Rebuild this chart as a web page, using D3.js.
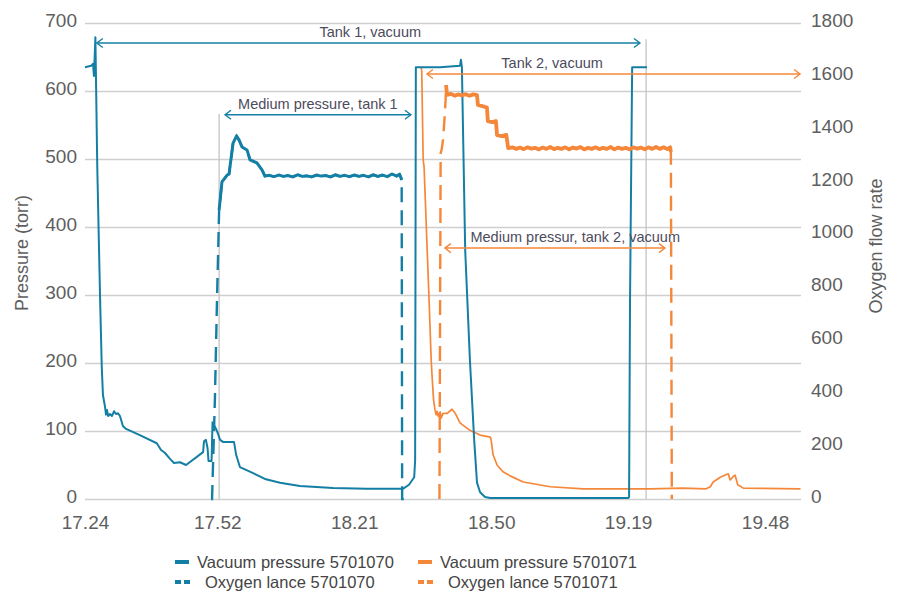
<!DOCTYPE html>
<html>
<head>
<meta charset="utf-8">
<script src="https://cdn.jsdelivr.net/npm/d3@7"></script>
<style>
  body { margin: 0; background: #fff; }
  svg { font-family: "Liberation Sans", Arial, sans-serif; }
</style>
</head>
<body>
<svg id="chart" width="899" height="601"></svg>
<script>
// time is minutes after 17.24
const timeTicks = [0, 28, 57, 86, 115, 144];
const timeLabels = ["17.24", "17.52", "18.21", "18.50", "19.19", "19.48"];
const pressureTicks = [0, 100, 200, 300, 400, 500, 600, 700];
const flowTicks = [0, 200, 400, 600, 800, 1000, 1200, 1400, 1600, 1800];

// [minute, torr]
const vacuum5701070 = [
  [0, 635], [1.3, 637], [1.7, 640], [1.9, 622], [2.2, 679], [2.6, 488], [3.2, 293], [3.55, 194],
  [3.8, 153], [4.25, 135], [4.45, 124], [4.65, 131], [4.9, 122], [5.3, 125], [5.7, 122], [6.15, 129],
  [6.55, 125], [7.0, 126], [7.4, 122], [8.05, 107], [8.7, 103], [11.6, 94], [15.2, 82], [16.1, 72],
  [16.9, 68], [18.0, 59], [18.85, 53], [20.1, 54], [21.4, 50], [25.0, 69], [25.2, 85], [25.6, 87],
  [25.95, 75], [26.15, 56], [26.8, 56], [27.0, 113], [27.3, 109], [27.75, 103], [28.15, 96], [28.6, 87],
  [29.2, 84], [31.55, 84], [32.0, 65], [32.8, 47], [35.6, 38], [38.3, 29], [41.3, 24], [45.5, 19],
  [52.5, 16], [59.7, 15], [66.7, 15], [67.3, 15], [68.6, 21], [69.7, 32], [69.9, 57], [70.05, 635],
  [75.2, 635], [79.4, 637], [79.6, 646], [79.8, 635], [80.5, 366], [81.5, 204], [82.4, 87], [83.0, 24],
  [83.65, 10], [84.7, 3], [85.8, 1.5], [115.0, 1.5], [115.2, 3], [115.4, 293], [115.85, 635], [119.0, 635]
];

const vacuum5701071 = [
  [71.2, 635], [71.3, 628], [71.6, 499], [71.8, 488], [72.45, 366], [72.85, 293], [73.3, 204], [73.5, 179],
  [73.8, 146], [74.1, 131], [74.35, 124], [74.55, 129], [74.75, 122], [75.2, 128], [75.4, 119], [75.8, 126],
  [76.7, 126], [77.7, 132], [78.4, 126], [79.4, 112], [81.5, 101], [83.65, 94], [85.8, 91], [86.0, 87],
  [86.4, 65], [87.25, 50], [88.5, 40], [90.0, 34], [92.8, 25], [98.5, 18], [105.5, 15], [112.7, 15],
  [119.6, 15], [126.6, 16], [131.5, 15], [132.4, 18], [133.0, 25], [134.5, 32], [136.2, 37], [136.6, 28],
  [137.4, 34], [137.65, 35], [138.2, 21], [139.4, 16], [151.5, 15]
];

// [minute, flow]
const lance5701070 = [
  [26.7, 0], [26.9, 0], [27.5, 374], [27.95, 753], [28.4, 1093], [29.0, 1199], [30.1, 1225], [30.5, 1229],
  [31.35, 1346], [32.1, 1373], [32.6, 1358], [33.25, 1331], [34.3, 1320], [34.95, 1282], [36.4, 1271],
  [37.5, 1244], [38.1, 1221], [39, 1224], [40, 1219], [41, 1225], [42, 1220], [43, 1223], [44, 1218],
  [45, 1226], [46, 1220], [47, 1222], [48, 1218], [49, 1225], [50, 1221], [51, 1223], [52, 1218],
  [53, 1226], [54, 1220], [55, 1224], [56, 1219], [57, 1225], [58, 1220], [59, 1224], [60, 1218],
  [61, 1226], [62, 1220], [63, 1225], [64, 1219], [65, 1229], [66, 1221], [66.6, 1228], [66.9, 1215],
  [67.05, 1206], [67.15, 0], [67.5, 0]
];

const lance5701071 = [
  [75.05, 0], [75.3, 1308], [75.5, 1320], [75.8, 1358], [76.1, 1433], [76.35, 1509], [76.45, 1565],
  [76.65, 1528], [77.5, 1532], [78.3, 1525], [79.0, 1530], [79.8, 1526], [80.6, 1531], [81.4, 1525],
  [82.2, 1530], [83.0, 1527], [83.2, 1490], [84.1, 1486], [85.1, 1480], [85.3, 1429], [86.2, 1425],
  [87.0, 1429], [87.25, 1376], [88.2, 1372], [89.2, 1377], [89.6, 1327], [90.5, 1330], [91.3, 1324],
  [92.1, 1329], [92.9, 1323], [93.7, 1330], [94.5, 1325], [95.3, 1328], [96.1, 1322], [96.9, 1329],
  [97.7, 1324], [98.5, 1331], [99.3, 1323], [100.1, 1328], [100.9, 1324], [101.7, 1330], [102.5, 1322],
  [103.3, 1329], [104.1, 1325], [104.9, 1331], [105.7, 1322], [106.5, 1328], [107.3, 1324], [108.1, 1330],
  [108.9, 1323], [109.7, 1328], [110.5, 1324], [111.3, 1331], [112.1, 1322], [112.9, 1329], [113.7, 1324],
  [114.5, 1328], [115.3, 1322], [116.1, 1330], [116.9, 1325], [117.7, 1329], [118.5, 1322], [119.3, 1330],
  [120.1, 1324], [120.9, 1331], [121.7, 1324], [122.5, 1330], [123.3, 1323], [123.9, 1330], [124.05, 1312],
  [124.25, 0]
];

// steady lance flow (minutes), drawn solid
const steady5701070 = [28.4, 67.05];
const steady5701071 = [76.45, 124.05];

// phase markers: minute and top (torr)
const markerTimes = [28.4, 118.8];
const markerTops = [566, 676];

const annotLabels = ["Tank 1, vacuum", "Medium pressure, tank 1", "Tank 2, vacuum", "Medium pressur, tank 2, vacuum"];
const annotFrom = [2.5, 29.65, 72.4, 76.2];
const annotTo = [117.5, 69.0, 151.4, 122.8];
const annotLevel = [670.5, 565, 625, 369];
const annotTextAt = [60.4, 49.3, 98.9, 103.8];
const annotTank = [0, 0, 1, 1];

const legendLabels = ["Vacuum pressure 5701070", "Oxygen lance 5701070", "Vacuum pressure 5701071", "Oxygen lance 5701071"];

const colors = ["#147fa5", "#f5873a"];

const margin = {top: 23, right: 98, bottom: 102, left: 85};
const width = 899 - margin.left - margin.right;
const height = 601 - margin.top - margin.bottom;

const svg = d3.select("#chart");
const g = svg.append("g").attr("transform", `translate(${margin.left},${margin.top})`);

const x = d3.scaleLinear().domain([0, 151.6]).range([0, width]);
const yLeft = d3.scaleLinear().domain([0, 700]).range([height, 0]);
const yRight = d3.scaleLinear().domain([0, 1800]).range([height, 0]);

// arrow markers
const defs = svg.append("defs");
colors.forEach((c, i) => {
  defs.append("marker")
    .attr("id", "arrow" + i)
    .attr("viewBox", "-8 -6 10 12")
    .attr("refX", 0).attr("refY", 0)
    .attr("markerWidth", 10).attr("markerHeight", 12)
    .attr("markerUnits", "userSpaceOnUse")
    .attr("orient", "auto-start-reverse")
    .append("path")
    .attr("d", "M-6,-4.5L0,0L-6,4.5")
    .attr("fill", "none")
    .attr("stroke", c)
    .attr("stroke-width", 1.4);
});

// grid + left axis
const gridAxis = g.append("g")
  .call(d3.axisLeft(yLeft).tickValues(pressureTicks).tickSize(-width).tickPadding(8));
gridAxis.select(".domain").remove();
gridAxis.selectAll(".tick line").attr("stroke", "#cfcfcf").attr("stroke-width", 1.5);
gridAxis.selectAll(".tick text")
  .attr("font-size", 19).attr("fill", "#5e5e5e").attr("dy", "0.18em")
  .style("font-family", "Liberation Sans, Arial, sans-serif");

// right axis
const rightAxis = g.append("g")
  .attr("transform", `translate(${width},0)`)
  .call(d3.axisRight(yRight).tickValues(flowTicks).tickFormat(d3.format("d")).tickSize(0).tickPadding(10));
rightAxis.select(".domain").remove();
rightAxis.selectAll(".tick text")
  .attr("font-size", 19).attr("fill", "#5e5e5e").attr("dy", "0.18em")
  .style("font-family", "Liberation Sans, Arial, sans-serif");

// x axis
const xAxis = g.append("g")
  .attr("transform", `translate(0,${height})`)
  .call(d3.axisBottom(x).tickValues(timeTicks).tickFormat((d, i) => timeLabels[i]).tickSize(0).tickPadding(17));
xAxis.select(".domain").remove();
xAxis.selectAll(".tick text")
  .attr("font-size", 19).attr("fill", "#5e5e5e")
  .style("font-family", "Liberation Sans, Arial, sans-serif");

// axis titles
svg.append("text")
  .attr("transform", "translate(28,253) rotate(-90)")
  .attr("text-anchor", "middle")
  .attr("font-size", 18).attr("fill", "#5e5e5e")
  .text("Pressure (torr)");
svg.append("text")
  .attr("transform", "translate(882,246) rotate(-90)")
  .attr("text-anchor", "middle")
  .attr("font-size", 18).attr("fill", "#5e5e5e")
  .text("Oxygen flow rate");

// phase markers
g.selectAll(".marker-line")
  .data(markerTimes)
  .join("line")
  .attr("class", "marker-line")
  .attr("x1", d => x(d)).attr("x2", d => x(d))
  .attr("y1", (d, i) => yLeft(markerTops[i]))
  .attr("y2", height)
  .attr("stroke", "#c4c4c4").attr("stroke-width", 1.3);

const pressureLine = d3.line().x(d => x(d[0])).y(d => yLeft(d[1]));
const flowLine = d3.line().x(d => x(d[0])).y(d => yRight(d[1]));

// vacuum pressure
g.append("path").datum(vacuum5701071)
  .attr("d", pressureLine).attr("fill", "none")
  .attr("stroke", colors[1]).attr("stroke-width", 1.7).attr("stroke-linejoin", "round");
g.append("path").datum(vacuum5701070)
  .attr("d", pressureLine).attr("fill", "none")
  .attr("stroke", colors[0]).attr("stroke-width", 2).attr("stroke-linejoin", "round");

// oxygen lance
[[lance5701070, steady5701070, 0, 3], [lance5701071, steady5701071, 1, 3.8]].forEach(([data, steady, i, w]) => {
  g.append("path").datum(data)
    .attr("d", flowLine).attr("fill", "none")
    .attr("stroke", colors[i]).attr("stroke-width", 2.4)
    .attr("stroke-dasharray", "15,8");
  g.append("path").datum(data.filter(d => d[0] >= steady[0] && d[0] <= steady[1]))
    .attr("d", flowLine).attr("fill", "none")
    .attr("stroke", colors[i]).attr("stroke-width", w).attr("stroke-linejoin", "round");
});

// annotations
annotLabels.forEach((label, i) => {
  const yy = yLeft(annotLevel[i]);
  g.append("line")
    .attr("x1", x(annotFrom[i])).attr("x2", x(annotTo[i]))
    .attr("y1", yy).attr("y2", yy)
    .attr("stroke", colors[annotTank[i]]).attr("stroke-width", 1.5)
    .attr("marker-start", `url(#arrow${annotTank[i]})`)
    .attr("marker-end", `url(#arrow${annotTank[i]})`);
  g.append("text")
    .attr("x", x(annotTextAt[i])).attr("y", yy - 6)
    .attr("text-anchor", "middle")
    .attr("font-size", 14.5).attr("fill", "#4d4b5c")
    .text(label);
});

// legend
const legend = svg.append("g");
legendLabels.forEach((label, i) => {
  const col = Math.floor(i / 2), row = i % 2;
  const lx = 175 + col * 243, ly = 562 + row * 20;
  const c = colors[col];
  if (row === 0) {
    legend.append("rect").attr("x", lx).attr("y", ly - 2).attr("width", 14).attr("height", 4).attr("fill", c);
  } else {
    legend.append("rect").attr("x", lx).attr("y", ly - 2).attr("width", 6).attr("height", 4).attr("fill", c);
    legend.append("rect").attr("x", lx + 9).attr("y", ly - 2).attr("width", 6).attr("height", 4).attr("fill", c);
  }
  legend.append("text")
    .attr("x", lx + (row === 0 ? 22 : 30)).attr("y", ly).attr("dy", "0.35em")
    .attr("font-size", 16.5).attr("fill", "#444")
    .text(label);
});
</script>
</body>
</html>
